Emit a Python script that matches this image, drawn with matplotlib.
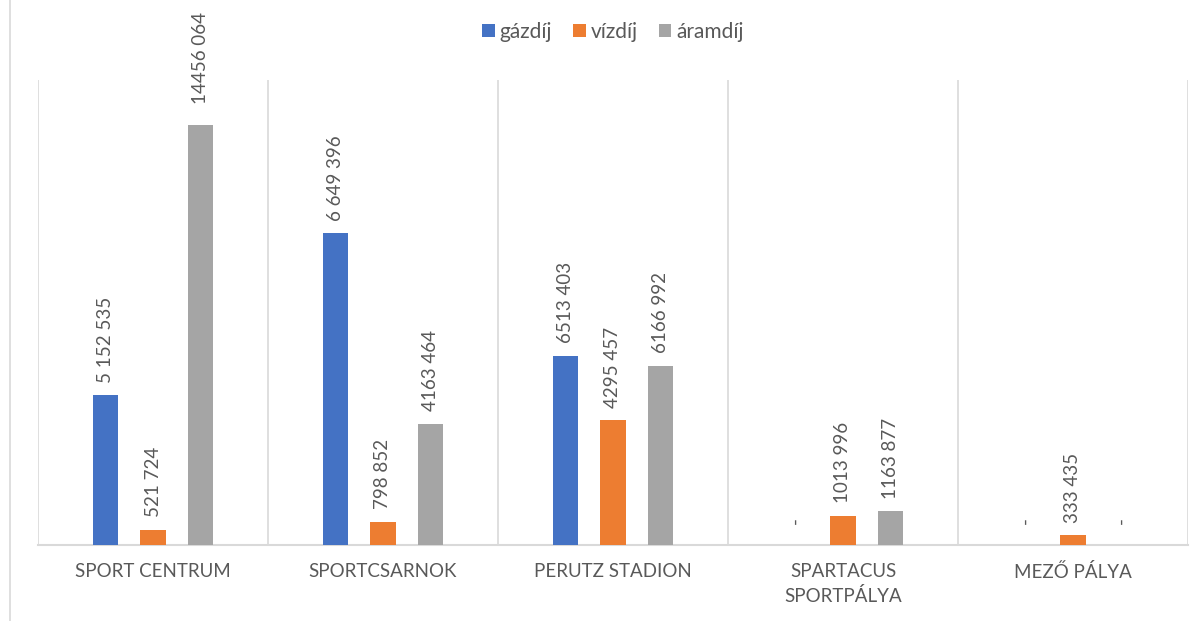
import matplotlib.pyplot as plt
import numpy as np

plt.rcParams['font.family'] = ['Lato', 'DejaVu Sans']

# categories and series (bar heights, label text as printed)
categories = ['SPORT CENTRUM', 'SPORTCSARNOK', 'PERUTZ STADION',
              'SPARTACUS\nSPORTPÁLYA', 'MEZŐ PÁLYA']
series = ['gázdíj', 'vízdíj', 'áramdíj']
gaz = [5152535, 10720000, 6513403, 0, 0]
viz = [521724, 798852, 4295457, 1013996, 333435]
aram = [14456064, 4163464, 6166992, 1163877, 0]
gaz_lbl = ['5 152 535', '6 649 396', '6513 403', '-', '-']
viz_lbl = ['521 724', '798 852', '4295 457', '1013 996', '333 435']
aram_lbl = ['14456 064', '4163 464', '6166 992', '1163 877', '-']

colors = ['#4472C4', '#ED7D31', '#A5A5A5']
txt_col = '#595959'
grid_col = '#D9D9D9'

fig = plt.figure(figsize=(12.03, 6.21), dpi=100)
ax = fig.add_axes([0.0316, 0.1224, 0.9559, 0.7488])

x = np.arange(len(categories))
offsets = [-0.208, 0.0, 0.208]
width = 0.109
for vals, lbls, off, col, name in zip([gaz, viz, aram], [gaz_lbl, viz_lbl, aram_lbl],
                                      offsets, colors, series):
    bars = ax.bar(x + off, vals, width=width, color=col, label=name, zorder=3)
    for b, lb in zip(bars, lbls):
        dy = 15 if lb == '-' else 9
        if b.get_height() > 14000000:
            dy = 15
        ax.annotate(lb, (b.get_x() + b.get_width() / 2, b.get_height()),
                    xytext=(0, dy), textcoords='offset points', rotation=90,
                    ha='center', va='bottom', fontsize=13.5, color=txt_col)

ax.set_xlim(-0.5, len(categories) - 0.5)
ax.set_ylim(0, 16000000)
ax.set_yticks([])
ax.set_xticks(x)
ax.set_xticklabels(categories, fontsize=13.5, color=txt_col, linespacing=1.45)
ax.set_xticks(np.arange(-0.5, len(categories)), minor=True)
ax.tick_params(axis='x', which='major', length=0, pad=13)
ax.tick_params(axis='x', which='minor', length=0)
ax.grid(axis='x', which='minor', color=grid_col, linewidth=1.2, zorder=0)

for s in ['top', 'left', 'right']:
    ax.spines[s].set_visible(False)
ax.spines['bottom'].set_color(grid_col)
ax.spines['bottom'].set_linewidth(1.5)

ax.legend(loc='upper center', bbox_to_anchor=(0.5, 1.165), ncol=3, frameon=False,
          fontsize=15, handlelength=0.6, handleheight=0.6, handletextpad=0.25,
          columnspacing=1.0, labelcolor=txt_col)

# chart frame edge on the left
fig.add_artist(plt.Line2D([10 / 1203, 10 / 1203], [0, 1], color=grid_col, linewidth=1.2))

fig.savefig('out.png', dpi=100)
